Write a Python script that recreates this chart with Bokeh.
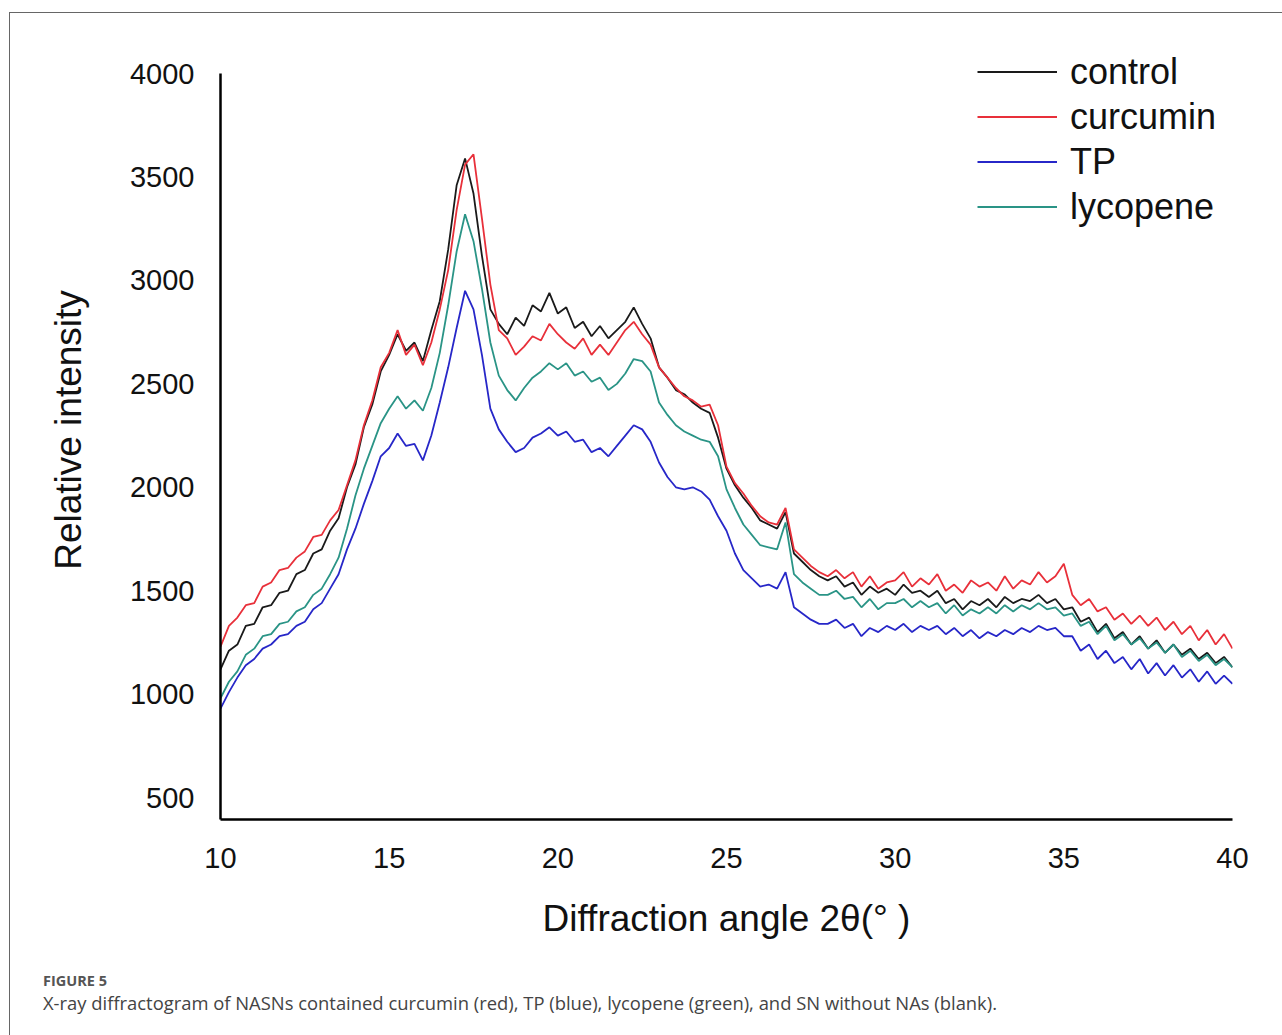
import numpy as np
from bokeh.plotting import figure
from bokeh.layouts import column
from bokeh.models import (Range1d, FixedTicker, Legend, LegendItem, Div,
                          ColumnDataSource)
from bokeh.embed import file_html
from bokeh.resources import INLINE

# 2-theta sampling grid (degrees), 0.25 deg steps from 10 to 40
angle = np.linspace(10, 40, 121)

control = [1120, 1210, 1240, 1330, 1340, 1420, 1430, 1490, 1500, 1580, 1600, 1680,
           1700, 1790, 1850, 2000, 2110, 2290, 2400, 2560, 2640, 2740, 2660, 2700,
           2610, 2760, 2900, 3150, 3460, 3590, 3420, 3120, 2860, 2790, 2740, 2820,
           2780, 2880, 2850, 2940, 2840, 2870, 2770, 2800, 2730, 2780, 2720, 2760,
           2800, 2870, 2790, 2720, 2580, 2530, 2470, 2450, 2410, 2380, 2360, 2240,
           2090, 2010, 1950, 1900, 1840, 1820, 1800, 1880, 1680, 1640, 1600, 1570,
           1550, 1570, 1520, 1540, 1480, 1520, 1490, 1510, 1480, 1530, 1490, 1500,
           1470, 1500, 1440, 1460, 1410, 1450, 1430, 1460, 1420, 1470, 1440, 1460,
           1450, 1480, 1440, 1460, 1410, 1420, 1350, 1370, 1300, 1340, 1270, 1300,
           1240, 1280, 1220, 1260, 1200, 1240, 1190, 1220, 1170, 1200, 1150, 1180,
           1130]

curcumin = [1230, 1330, 1370, 1430, 1440, 1520, 1540, 1600, 1610, 1660, 1690, 1760,
            1770, 1840, 1890, 2010, 2130, 2300, 2420, 2580, 2650, 2760, 2640, 2690,
            2590, 2700, 2860, 3050, 3340, 3560, 3610, 3300, 2980, 2760, 2720, 2640,
            2680, 2730, 2710, 2790, 2740, 2700, 2670, 2720, 2640, 2690, 2640, 2700,
            2760, 2800, 2740, 2690, 2580, 2530, 2480, 2440, 2420, 2390, 2400, 2300,
            2100, 2020, 1970, 1910, 1860, 1830, 1820, 1900, 1700, 1660, 1620, 1590,
            1570, 1600, 1560, 1590, 1520, 1570, 1510, 1540, 1550, 1590, 1520, 1560,
            1530, 1580, 1500, 1530, 1490, 1550, 1520, 1540, 1500, 1570, 1510, 1550,
            1530, 1590, 1540, 1570, 1630, 1480, 1430, 1460, 1400, 1420, 1360, 1390,
            1340, 1380, 1330, 1370, 1310, 1350, 1290, 1330, 1260, 1310, 1240, 1290,
            1220]

tp = [930, 1010, 1080, 1140, 1170, 1220, 1240, 1280, 1290, 1330, 1350, 1410,
      1440, 1510, 1580, 1700, 1800, 1920, 2030, 2150, 2190, 2260, 2200, 2210,
      2130, 2250, 2410, 2580, 2770, 2950, 2860, 2640, 2380, 2280, 2220, 2170,
      2190, 2240, 2260, 2290, 2250, 2270, 2220, 2230, 2170, 2190, 2150, 2200,
      2250, 2300, 2280, 2220, 2120, 2050, 2000, 1990, 2000, 1980, 1940, 1860,
      1790, 1680, 1600, 1560, 1520, 1530, 1510, 1590, 1420, 1390, 1360, 1340,
      1340, 1360, 1320, 1340, 1280, 1320, 1300, 1330, 1310, 1340, 1300, 1330,
      1310, 1330, 1290, 1320, 1280, 1310, 1270, 1300, 1280, 1310, 1290, 1320,
      1300, 1330, 1310, 1320, 1280, 1280, 1210, 1240, 1170, 1210, 1150, 1180,
      1120, 1170, 1100, 1150, 1090, 1140, 1080, 1120, 1060, 1110, 1050, 1090,
      1050]

lycopene = [980, 1060, 1110, 1190, 1220, 1280, 1290, 1340, 1350, 1400, 1420, 1480,
            1510, 1580, 1660, 1800, 1960, 2090, 2200, 2310, 2380, 2440, 2380, 2420,
            2370, 2480, 2650, 2880, 3140, 3320, 3190, 2960, 2700, 2540, 2470, 2420,
            2480, 2530, 2560, 2600, 2570, 2600, 2540, 2560, 2510, 2530, 2470, 2500,
            2550, 2620, 2610, 2560, 2410, 2350, 2300, 2270, 2250, 2230, 2220, 2150,
            1990, 1900, 1820, 1770, 1720, 1710, 1700, 1830, 1580, 1540, 1510, 1480,
            1480, 1500, 1460, 1470, 1420, 1460, 1410, 1440, 1440, 1460, 1420, 1450,
            1420, 1440, 1390, 1430, 1380, 1410, 1390, 1420, 1390, 1430, 1400, 1430,
            1410, 1440, 1410, 1420, 1380, 1390, 1330, 1350, 1290, 1330, 1260, 1290,
            1240, 1270, 1220, 1250, 1200, 1240, 1180, 1210, 1160, 1190, 1140, 1170,
            1130]

series_names = ["control", "curcumin", "TP", "lycopene"]
series_colors = ["#1a1a1a", "#e8303a", "#2727c8", "#2a9486"]
x_ticks = [10, 15, 20, 25, 30, 35, 40]
y_ticks = [500, 1000, 1500, 2000, 2500, 3000, 3500, 4000]
caption_head = "FIGURE 5"
caption_text = ("X-ray diffractogram of NASNs contained curcumin (red), TP (blue), "
                "lycopene (green), and SN without NAs (blank).")

AX_FONT = "Liberation Sans"

p = figure(width=1271, height=936, output_backend="svg", toolbar_location=None,
           x_range=Range1d(10, 40), y_range=Range1d(394, 4160),
           min_border_left=210, min_border_right=49, min_border_top=27,
           min_border_bottom=130)
p.outline_line_color = None
p.grid.grid_line_color = None
p.background_fill_color = "white"
p.border_fill_color = "white"

for ax in (p.xaxis[0], p.yaxis[0]):
    ax.axis_line_color = "black"
    ax.axis_line_width = 2.5
    ax.major_tick_line_color = None
    ax.minor_tick_line_color = None
    ax.major_label_text_font = AX_FONT
    ax.major_label_text_font_size = "29px"
    ax.major_label_text_color = "#111111"
    ax.axis_label_text_font = AX_FONT
    ax.axis_label_text_font_style = "normal"
    ax.axis_label_text_color = "#111111"

p.yaxis.bounds = (394, 4000)
p.xaxis.ticker = FixedTicker(ticks=x_ticks)
p.yaxis.ticker = FixedTicker(ticks=y_ticks)
p.xaxis.major_label_standoff = 22
p.yaxis.major_label_standoff = 20
p.xaxis.axis_label = "Diffraction angle 2θ(° )"
p.yaxis.axis_label = "Relative intensity"
p.xaxis.axis_label_text_font_size = "37px"
p.yaxis.axis_label_text_font_size = "37px"
p.xaxis.axis_label_standoff = 27
p.yaxis.axis_label_standoff = 38

data = {"control": control, "curcumin": curcumin, "TP": tp, "lycopene": lycopene}
renderers = {}
draw_order = ["control", "lycopene", "TP", "curcumin"]
for name in draw_order:
    color = series_colors[series_names.index(name)]
    src = ColumnDataSource(dict(x=angle, y=data[name]))
    renderers[name] = p.line("x", "y", source=src, line_color=color, line_width=1.8)

legend = Legend(items=[LegendItem(label=n, renderers=[renderers[n]]) for n in series_names],
                location=(757, 590), orientation="vertical",
                glyph_width=80, glyph_height=45, label_height=45, label_standoff=13,
                spacing=0, padding=0, margin=0,
                label_text_font=AX_FONT, label_text_font_size="36px",
                label_text_color="#111111",
                border_line_color=None, background_fill_alpha=0)
p.add_layout(legend, "center")

caption_html = (
    '<div style="padding-left:28px;font-family:\'Open Sans\',sans-serif;color:#444444;">'
    '<div style="margin-top:17px;line-height:20px;font-size:14.5px;font-weight:bold;'
    'color:#555555;">' + caption_head + '</div>'
    '<div style="margin-top:1px;line-height:22px;font-size:18.4px;white-space:nowrap;">'
    + caption_text + '</div></div>'
)
cap = Div(text=caption_html, width=1271, height=85)

layout = column(p, cap, spacing=0,
                styles={"margin-left": "9px", "margin-top": "12px",
                        "border-left": "1.5px solid #666",
                        "border-top": "1.5px solid #666"})

open("out.html", "w").write(file_html(layout, INLINE))
